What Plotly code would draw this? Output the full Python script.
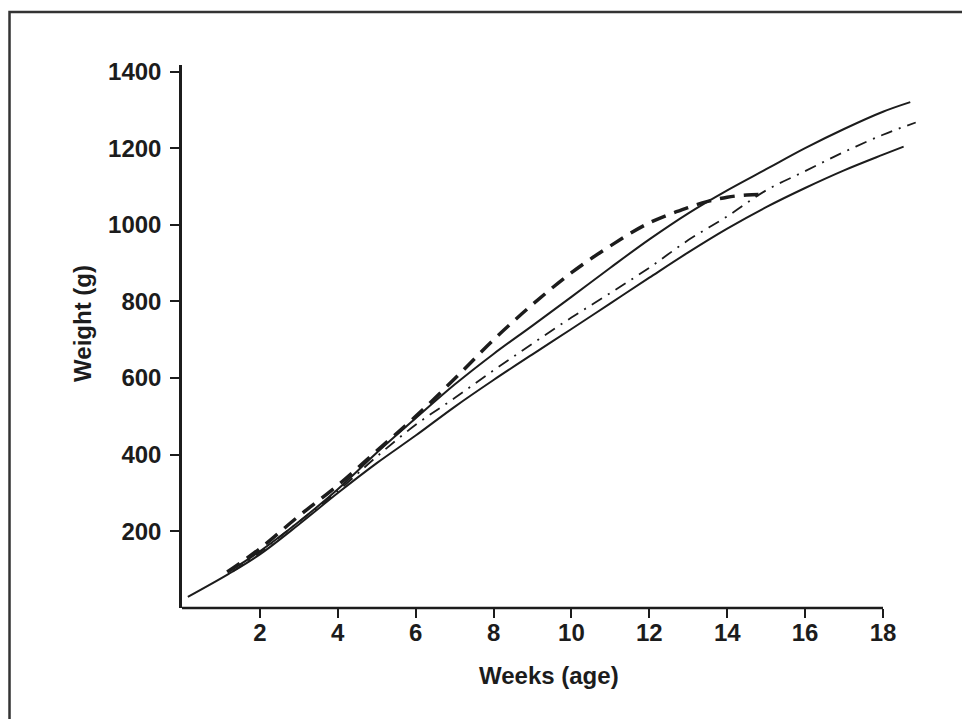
import plotly.graph_objects as go

# Weeks (age) and weight (g) for each curve
weeks_lower = [0.15, 1.2, 2, 3, 4, 5, 6, 7, 8, 9, 10, 11, 12, 13, 14, 15, 16, 17, 18, 18.53]
weight_lower = [29, 89, 140, 218, 300, 378, 450, 525, 595, 662, 728, 795, 862, 928, 990, 1046, 1096, 1142, 1183, 1204]

weeks_upper = [1.2, 2, 3, 4, 5, 6, 7, 8, 9, 10, 11, 12, 13, 14, 15, 16, 17, 18, 18.7]
weight_upper = [95, 148, 225, 310, 405, 495, 583, 663, 737, 812, 888, 962, 1030, 1090, 1145, 1200, 1250, 1295, 1320]

weeks_dashdot = [1.3, 2, 3, 4, 5, 6, 7, 8, 9, 10, 11, 12, 13, 14, 15, 16, 17, 18, 18.84]
weight_dashdot = [95, 145, 225, 305, 395, 478, 548, 620, 690, 758, 822, 888, 960, 1022, 1090, 1140, 1190, 1235, 1267]

weeks_dashed = [1.16, 2, 3, 4, 5, 6, 7, 8, 9, 10, 11, 12, 13, 13.5, 14, 14.5, 14.86]
weight_dashed = [94, 155, 240, 320, 410, 500, 598, 700, 792, 875, 945, 1005, 1045, 1061, 1072, 1078, 1079]

x_ticks = [2, 4, 6, 8, 10, 12, 14, 16, 18]
y_ticks = [200, 400, 600, 800, 1000, 1200, 1400]

INK = "#1c1c1c"
FONT = "Liberation Sans, Arial, sans-serif"

fig = go.Figure()
fig.add_trace(go.Scatter(x=weeks_lower, y=weight_lower, mode="lines",
                         line=dict(color=INK, width=2, shape="spline"), showlegend=False))
fig.add_trace(go.Scatter(x=weeks_upper, y=weight_upper, mode="lines",
                         line=dict(color=INK, width=2, shape="spline"), showlegend=False))
fig.add_trace(go.Scatter(x=weeks_dashdot, y=weight_dashdot, mode="lines",
                         line=dict(color=INK, width=1.8, shape="spline", dash="12px,7px,2px,7px"),
                         showlegend=False))
fig.add_trace(go.Scatter(x=weeks_dashed, y=weight_dashed, mode="lines",
                         line=dict(color=INK, width=3.5, shape="spline", dash="15px,9px"),
                         showlegend=False))

fig.update_layout(
    width=970, height=719,
    margin=dict(l=174, r=48, t=57, b=119),
    paper_bgcolor="white", plot_bgcolor="white",
    font=dict(family=FONT, color=INK, size=24),
    xaxis=dict(range=[0, 19.207], tickvals=x_ticks, ticktext=[str(v) for v in x_ticks],
               ticks="outside", ticklen=9, tickwidth=2, tickcolor=INK, ticklabelstandoff=-6,
               showline=False, showgrid=False, zeroline=False,
               tickfont=dict(family=FONT, size=24, color=INK, weight="bold")),
    yaxis=dict(range=[0, 1417], tickvals=y_ticks, ticktext=[str(v) for v in y_ticks],
               ticks="outside", ticklen=9, tickwidth=2, tickcolor=INK, ticklabelstandoff=4,
               showline=True, linewidth=2.5, linecolor=INK, showgrid=False, zeroline=False,
               tickfont=dict(family=FONT, size=24, color=INK, weight="bold")),
    annotations=[
        dict(text="<b>Weeks (age)</b>", xref="paper", yref="paper", x=0.4908, y=-0.1234,
             xanchor="center", yanchor="middle", showarrow=False,
             font=dict(family=FONT, size=24, color=INK)),
        dict(text="<b>Weight (g)</b>", xref="paper", yref="paper", x=-0.1324, y=0.525,
             xanchor="center", yanchor="middle", showarrow=False, textangle=-90,
             font=dict(family=FONT, size=24, color=INK)),
    ],
    shapes=[
        dict(type="rect", xref="paper", yref="paper", x0=-0.2306, x1=1.06, y0=-0.2155, y1=1.0976,
             line=dict(color="#333333", width=2.5), fillcolor="rgba(0,0,0,0)", layer="below"),
        dict(type="line", xref="x", yref="paper", x0=0, x1=18, y0=0, y1=0,
             line=dict(color=INK, width=2.5)),
    ],
)

fig.write_html("out.html")
